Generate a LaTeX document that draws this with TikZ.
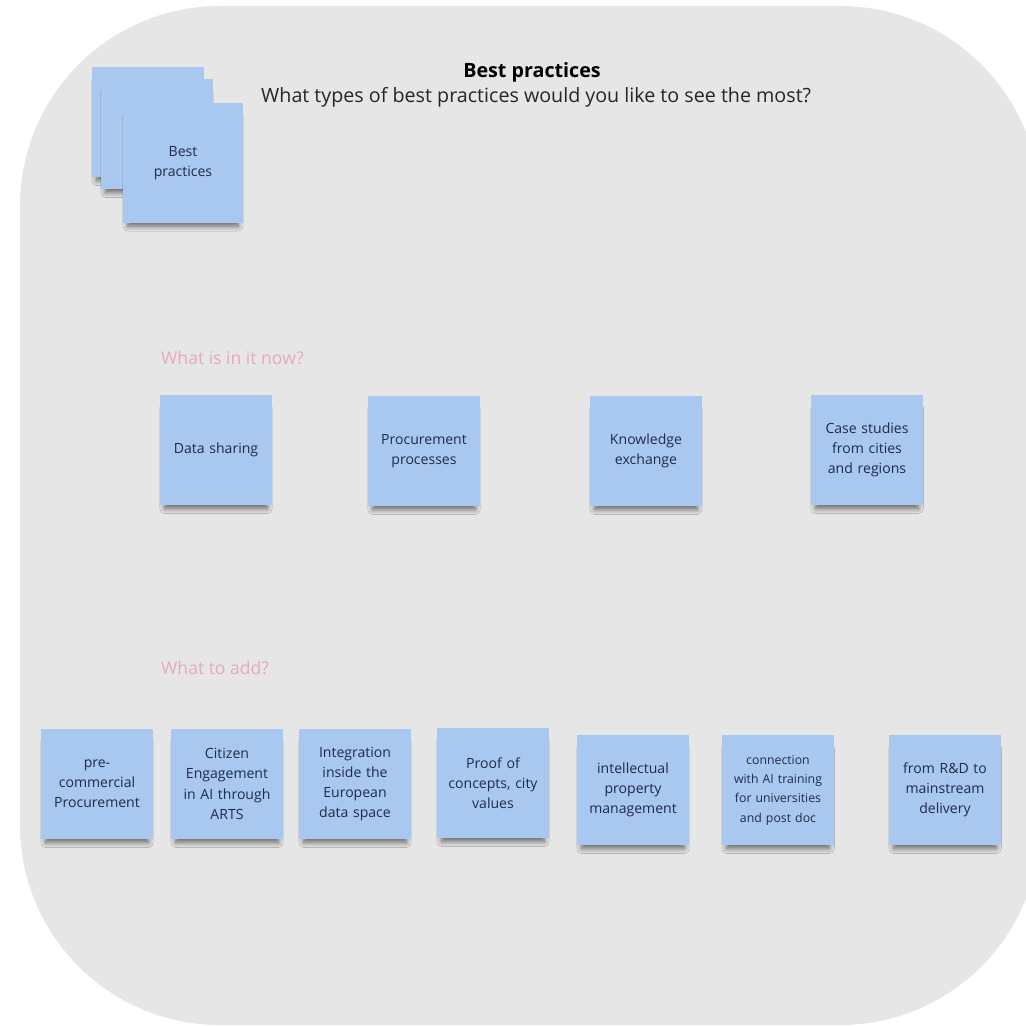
\documentclass[tikz,border=0pt]{standalone}
\usepackage{fontspec}
\setmainfont{Open Sans}
\usetikzlibrary{shadows.blur}
\definecolor{boardgray}{HTML}{E6E6E6}
\definecolor{stickyblue}{HTML}{A9C8F0}
\definecolor{stickytext}{HTML}{1F2B48}
\definecolor{labelpink}{HTML}{E5AABA}
\tikzset{
  sticky/.style={fill=stickyblue, minimum width=2.2cm, minimum height=2.2cm,
    text width=2cm, align=center, text=stickytext,
    font=\fontsize{8}{11.5}\selectfont,
    blur shadow={shadow xshift=0pt, shadow yshift=-5pt, shadow scale=0.92,
      shadow opacity=55, shadow blur radius=3pt, shadow blur steps=8}},
  section/.style={anchor=west, text=labelpink, font=\fontsize{10}{12}\selectfont},
}
\begin{document}
\begin{tikzpicture}[x=0.02cm, y=-0.02cm]
      \useasboundingbox (0,0) rectangle (1025,1027);
      \fill[boardgray, rounded corners=4cm] (20,6) rectangle (1040,1025);
      \draw
        (148,122) node[sticky] (back){}
        (157,134) node[sticky] (middle){}
        (183,163) node[sticky, minimum width=2.4cm, minimum height=2.4cm] (front){Best\\practices};
      \draw
        (532,72) node[font=\fontsize{11.2}{13}\selectfont\bfseries] (title){Best practices}
        (255,97) node[anchor=west, font=\fontsize{11.2}{13}\selectfont, text=black!85] (question){What types of best practices would you like to see the most?};
      \draw
        (155,358) node[section] (now){What is in it now?}
        (155,668) node[section] (add){What to add?};
      \draw
        (216,450) node[sticky] (datasharing){Data sharing}
        (424,451) node[sticky] (procurement){Procurement\\processes}
        (646,451) node[sticky] (knowledge){Knowledge\\exchange}
        (867,450) node[sticky] (casestudies){Case studies\\from cities\\and regions};
      \draw
        (97,784) node[sticky] (precommercial){pre-\\commercial\\Procurement}
        (227,784) node[sticky] (citizen){Citizen\\Engagement\\in AI through\\ARTS}
        (355,784) node[sticky] (integration){Integration\\inside the\\European\\data space}
        (493,783) node[sticky] (proof){Proof of\\concepts, city\\values}
        (633,790) node[sticky] (intellectual){intellectual\\property\\management}
        (778,790) node[sticky, font=\fontsize{7}{11}\selectfont] (connection){connection\\with AI training\\for universities\\and post doc}
        (945,790) node[sticky] (delivery){from R\&D to\\mainstream\\delivery};
    \end{tikzpicture}
\end{document}
